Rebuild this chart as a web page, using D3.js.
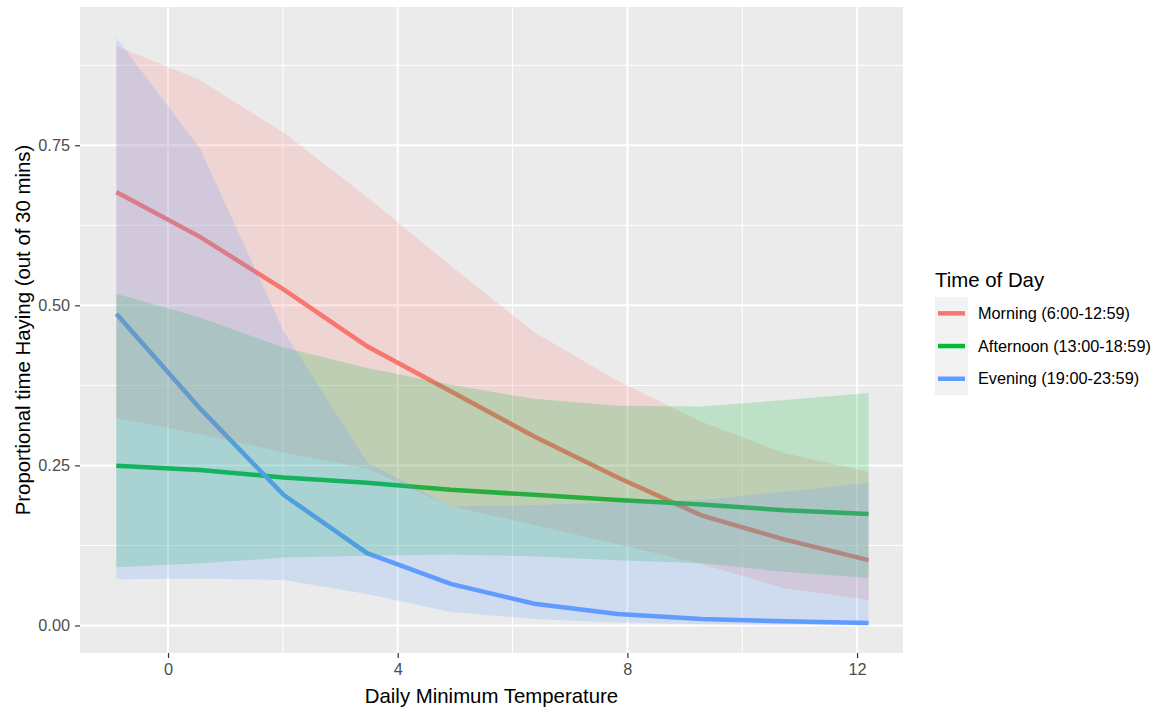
<!DOCTYPE html>
<html>
<head>
<meta charset="utf-8">
<script src="https://cdn.jsdelivr.net/npm/d3@7"></script>
<style>
  body { margin: 0; background: #ffffff; }
  text { font-family: "Liberation Sans", Arial, sans-serif; }
</style>
</head>
<body>
<div id="chart"></div>
<script>
// daily minimum temperature at which the model was evaluated
var tempX = [-0.9, 0.556, 2.011, 3.467, 4.922, 6.378, 7.833, 9.289, 10.744, 12.2];

// Morning (6:00-12:59)
var morningFit = [0.677, 0.607, 0.525, 0.436, 0.366, 0.295, 0.231, 0.172, 0.134, 0.102];
var morningLo  = [0.324, 0.299, 0.270, 0.245, 0.186, 0.157, 0.127, 0.096, 0.058, 0.040];
var morningHi  = [0.905, 0.852, 0.770, 0.669, 0.562, 0.458, 0.382, 0.318, 0.269, 0.240];

// Afternoon (13:00-18:59)
var afternoonFit = [0.2495, 0.243, 0.231, 0.223, 0.212, 0.204, 0.196, 0.189, 0.180, 0.174];
var afternoonLo  = [0.091, 0.097, 0.106, 0.109, 0.111, 0.108, 0.102, 0.097, 0.084, 0.074];
var afternoonHi  = [0.518, 0.481, 0.434, 0.402, 0.376, 0.354, 0.343, 0.342, 0.352, 0.363];

// Evening (19:00-23:59)
var eveningFit = [0.487, 0.339, 0.204, 0.113, 0.065, 0.034, 0.018, 0.010, 0.0065, 0.004];
var eveningLo  = [0.072, 0.0735, 0.071, 0.049, 0.021, 0.010, 0.0045, 0.002, 0.001, 0.0003];
var eveningHi  = [0.918, 0.745, 0.460, 0.255, 0.186, 0.188, 0.192, 0.196, 0.209, 0.223];

var groupNames = ["Morning (6:00-12:59)", "Afternoon (13:00-18:59)", "Evening (19:00-23:59)"];
var groupColors = ["#F8766D", "#00BA38", "#619CFF"];

var xTicks = [0, 4, 8, 12];
var xMinor = [2, 6, 10];
var yTicks = [0, 0.25, 0.5, 0.75];
var yMinor = [0.125, 0.375, 0.625, 0.875];

var svgWidth = 1167;
var svgHeight = 713;

var panel = { left: 80, right: 903, top: 7, bottom: 653 };

var svg = d3.select("#chart")
  .append("svg")
  .attr("width", svgWidth)
  .attr("height", svgHeight);

svg.append("rect")
  .attr("width", svgWidth)
  .attr("height", svgHeight)
  .attr("fill", "#ffffff");

var xScale = d3.scaleLinear()
  .domain([-1.533, 12.80])
  .range([panel.left, panel.right]);

var yScale = d3.scaleLinear()
  .domain([-0.043, 0.966])
  .range([panel.bottom, panel.top]);

// panel background
svg.append("rect")
  .attr("x", panel.left)
  .attr("y", panel.top)
  .attr("width", panel.right - panel.left)
  .attr("height", panel.bottom - panel.top)
  .attr("fill", "#EBEBEB");

var grid = svg.append("g");

// minor grid
grid.selectAll(".ymin").data(yMinor).enter().append("line")
  .attr("x1", panel.left).attr("x2", panel.right)
  .attr("y1", d => yScale(d)).attr("y2", d => yScale(d))
  .attr("stroke", "#ffffff").attr("stroke-width", 1);
grid.selectAll(".xmin").data(xMinor).enter().append("line")
  .attr("y1", panel.top).attr("y2", panel.bottom)
  .attr("x1", d => xScale(d)).attr("x2", d => xScale(d))
  .attr("stroke", "#ffffff").attr("stroke-width", 1);

// major grid
grid.selectAll(".ymaj").data(yTicks).enter().append("line")
  .attr("x1", panel.left).attr("x2", panel.right)
  .attr("y1", d => yScale(d)).attr("y2", d => yScale(d))
  .attr("stroke", "#ffffff").attr("stroke-width", 2);
grid.selectAll(".xmaj").data(xTicks).enter().append("line")
  .attr("y1", panel.top).attr("y2", panel.bottom)
  .attr("x1", d => xScale(d)).attr("x2", d => xScale(d))
  .attr("stroke", "#ffffff").attr("stroke-width", 2);

// build series table
var series = [
  { name: groupNames[0], color: groupColors[0], fit: morningFit, lo: morningLo, hi: morningHi },
  { name: groupNames[1], color: groupColors[1], fit: afternoonFit, lo: afternoonLo, hi: afternoonHi },
  { name: groupNames[2], color: groupColors[2], fit: eveningFit, lo: eveningLo, hi: eveningHi }
];
series.forEach(function(s) {
  s.points = tempX.map((x, i) => ({ x: x, fit: s.fit[i], lo: s.lo[i], hi: s.hi[i] }));
});

var line = d3.line()
  .x(d => xScale(d.x))
  .y(d => yScale(d.fit));

var area = d3.area()
  .x(d => xScale(d.x))
  .y0(d => yScale(d.lo))
  .y1(d => yScale(d.hi));

// lines first, ribbons drawn over them
svg.append("g").selectAll("path").data(series).enter().append("path")
  .attr("d", d => line(d.points))
  .attr("fill", "none")
  .attr("stroke", d => d.color)
  .attr("stroke-width", 4.5);

svg.append("g").selectAll("path").data(series).enter().append("path")
  .attr("d", d => area(d.points))
  .attr("fill", d => d.color)
  .attr("fill-opacity", 0.2)
  .attr("stroke", "none");

// axes
var bottomAxis = d3.axisBottom(xScale)
  .tickValues(xTicks)
  .tickSize(5)
  .tickPadding(5)
  .tickFormat(d3.format("d"));

var leftAxis = d3.axisLeft(yScale)
  .tickValues(yTicks)
  .tickSize(5)
  .tickPadding(5)
  .tickFormat(d3.format(".2f"));

var xAxis = svg.append("g")
  .attr("transform", `translate(0, ${panel.bottom})`)
  .call(bottomAxis);

var yAxis = svg.append("g")
  .attr("transform", `translate(${panel.left}, 0)`)
  .call(leftAxis);

[xAxis, yAxis].forEach(function(ax) {
  ax.select(".domain").remove();
  ax.selectAll(".tick line").attr("stroke", "#333333").attr("stroke-width", 1.2);
  ax.selectAll(".tick text")
    .attr("fill", "#4D4D4D")
    .style("font-size", "16.3px")
    .style("font-family", "'Liberation Sans', Arial, sans-serif");
});

// axis titles
svg.append("text")
  .attr("x", (panel.left + panel.right) / 2)
  .attr("y", 703)
  .attr("text-anchor", "middle")
  .style("font-size", "20.4px")
  .attr("fill", "#000000")
  .text("Daily Minimum Temperature");

svg.append("text")
  .attr("transform", "rotate(-90)")
  .attr("x", -(panel.top + panel.bottom) / 2)
  .attr("y", 30)
  .attr("text-anchor", "middle")
  .style("font-size", "20.4px")
  .attr("fill", "#000000")
  .text("Proportional time Haying (out of 30 mins)");

// legend
var legend = svg.append("g")
  .attr("transform", "translate(935, 0)");

legend.append("text")
  .attr("x", 0)
  .attr("y", 287)
  .style("font-size", "20.4px")
  .attr("fill", "#000000")
  .text("Time of Day");

var keyH = 32.7;
var keyTop = 297;

legend.append("rect")
  .attr("x", 0)
  .attr("y", keyTop)
  .attr("width", 33)
  .attr("height", keyH * 3)
  .attr("fill", "#F2F2F2");

var items = legend.selectAll(".item").data(series).enter().append("g")
  .attr("transform", (d, i) => `translate(0, ${keyTop + keyH * i + keyH / 2})`);

items.append("line")
  .attr("x1", 3).attr("x2", 30)
  .attr("y1", 0).attr("y2", 0)
  .attr("stroke", d => d.color)
  .attr("stroke-width", 4.5);

items.append("text")
  .attr("x", 43)
  .attr("y", 0)
  .attr("dy", "0.35em")
  .style("font-size", "16.3px")
  .attr("fill", "#000000")
  .text(d => d.name);
</script>
</body>
</html>
